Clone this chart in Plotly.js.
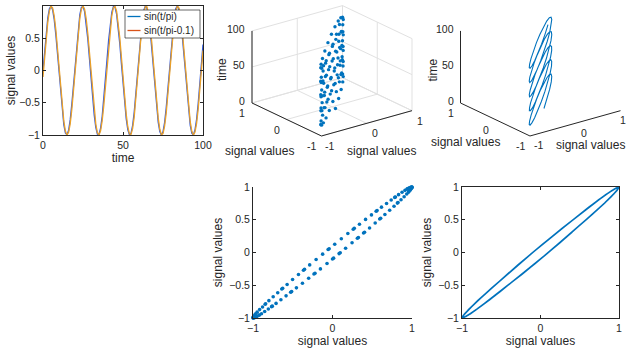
<!DOCTYPE html>
<html>
<head>
<meta charset="utf-8">
<script src="https://cdn.plot.ly/plotly-3.0.1.min.js"></script>
<style>html,body{margin:0;padding:0;background:#fff;}#chart{width:626px;height:354px;}</style>
</head>
<body>
<div id="chart"></div>
<script>
// time values 0..100
var time = [];
for (var i = 0; i <= 100; i++) time.push(i);

// sin(t/pi)
var sig1 = [
 0, 0.313, 0.594, 0.816, 0.956, 1.000, 0.943, 0.792, 0.561, 0.274,
 -0.042, -0.352, -0.627, -0.841, -0.969, -0.998, -0.926, -0.766, -0.526, -0.233,
 0.083, 0.391, 0.659, 0.862, 0.977, 0.995, 0.912, 0.738, 0.490, 0.193,
 -0.124, -0.428, -0.689, -0.880, -0.986, -0.990, -0.893, -0.710, -0.454, -0.152,
 0.165, 0.466, 0.719, 0.901, 0.991, 0.983, 0.875, 0.680, 0.416, 0.111,
 -0.206, -0.502, -0.746, -0.917, -0.996, -0.974, -0.853, -0.649, -0.378, -0.069,
 0.246, 0.537, 0.774, 0.934, 0.999, 0.964, 0.831, 0.616, 0.339, 0.028,
 -0.287, -0.571, -0.800, -0.948, -1.000, -0.950, -0.807, -0.584, -0.300, 0.014,
 0.326, 0.606, 0.824, 0.960, 0.999, 0.938, 0.783, 0.549, 0.261, -0.055,
 -0.365, -0.638, -0.847, -0.971, -0.997, -0.920, -0.757, -0.514, -0.220, 0.097,
 0.403
];

// sin(t/pi-0.1)
var sig2 = [
 -0.100, 0.217, 0.511, 0.754, 0.922, 0.997, 0.972, 0.848, 0.640, 0.369,
 0.058, -0.257, -0.547, -0.782, -0.938, -0.999, -0.959, -0.827, -0.608, -0.329,
 -0.017, 0.297, 0.581, 0.806, 0.951, 1.000, 0.949, 0.802, 0.574, 0.290,
 -0.025, -0.337, -0.614, -0.831, -0.965, -0.999, -0.936, -0.777, -0.540, -0.250,
 0.066, 0.375, 0.646, 0.852, 0.973, 0.996, 0.919, 0.749, 0.505, 0.210,
 -0.107, -0.413, -0.676, -0.872, -0.982, -0.991, -0.901, -0.722, -0.469, -0.169,
 0.148, 0.451, 0.707, 0.893, 0.989, 0.986, 0.883, 0.692, 0.432, 0.127,
 -0.189, -0.488, -0.735, -0.911, -0.994, -0.978, -0.862, -0.662, -0.394, -0.086,
 0.230, 0.523, 0.764, 0.927, 0.998, 0.968, 0.841, 0.630, 0.356, 0.045,
 -0.270, -0.558, -0.790, -0.942, -1.000, -0.955, -0.819, -0.597, -0.316, -0.003,
 0.310
];

var seriesNames = ['sin(t/pi)', 'sin(t/pi-0.1)'];
var timeTicks = [0, 50, 100];
var sigTicks = [-1, -0.5, 0, 0.5, 1];
var sigTicks3d = [-1, 0, 1];
var sigLabel = 'signal values';
var timeLabel = 'time';

var FONT = 'Liberation Sans, Arial, Helvetica, sans-serif';
var INK = '#262626';
var GRID = '#e1e1e1';
var BLUE = '#0072BD';
var LINE1 = '#2f5ae0', LINE2 = '#eaa028';
var LEG1 = '#0072BD', LEG2 = '#D95319';
var TICKSZ = 10.5, TITLESZ = 12, LEGSZ = 10;
var W = 626, H = 354;

// ---- 3D view (MATLAB default view: az -37.5, el 30), orthographic, drawn on hidden 2D axes ----
var AZ = -37.5 * Math.PI / 180, EL = 30 * Math.PI / 180;
var SX = 57.06, SY = 41.6;   // pixels per projected unit (stretch-to-fill)
function proj(x, y, z) {
  var xn = x, yn = y, zn = (z - 50) / 50;
  var u = Math.cos(AZ) * xn + Math.sin(AZ) * yn;
  var d = -Math.sin(AZ) * xn + Math.cos(AZ) * yn;
  var v = Math.cos(EL) * zn + Math.sin(EL) * d;
  return [u, v];
}
function projArrays(xs, ys, zs) {
  var u = [], v = [];
  for (var i = 0; i < xs.length; i++) { var p = proj(xs[i], ys[i], zs[i]); u.push(p[0]); v.push(p[1]); }
  return {u: u, v: v};
}
function segTrace(segs, color, width, xa, ya) {
  var u = [], v = [];
  segs.forEach(function (s) {
    var a = proj(s[0][0], s[0][1], s[0][2]), b = proj(s[1][0], s[1][1], s[1][2]);
    u.push(a[0], b[0], null); v.push(a[1], b[1], null);
  });
  return {x: u, y: v, type: 'scatter', mode: 'lines', showlegend: false, hoverinfo: 'skip',
    line: {color: color, width: width}, xaxis: xa, yaxis: ya, connectgaps: false};
}
var xLo = sigTicks3d[0], xHi = sigTicks3d[sigTicks3d.length - 1];
var zLo = timeTicks[0], zHi = timeTicks[timeTicks.length - 1];
function gridSegs() {
  var s = [];
  sigTicks3d.forEach(function (a) {
    s.push([[a, xLo, zLo], [a, xHi, zLo]]);
    s.push([[xLo, a, zLo], [xHi, a, zLo]]);
    s.push([[xHi, a, zLo], [xHi, a, zHi]]);
    s.push([[a, xHi, zLo], [a, xHi, zHi]]);
  });
  timeTicks.forEach(function (z) {
    s.push([[xHi, xLo, z], [xHi, xHi, z]]);
    s.push([[xLo, xHi, z], [xHi, xHi, z]]);
  });
  return s;
}
function axisSegs() {
  return [
    [[xLo, xHi, zLo], [xLo, xHi, zHi]],
    [[xLo, xHi, zLo], [xLo, xLo, zLo]],
    [[xLo, xLo, zLo], [xHi, xLo, zLo]]
  ];
}

var panels = [
  {cx: 332, cy: 70.8, px0: 205, px1: 420, xa: 'x4', ya: 'y4', grid: true,
   yTitle: [-27, -31.5], xTitle: [15, -27.6], zTitle: [-30, -3],
   yTick: [-10, -10.5], xTick: [8, -10]},
  {cx: 540.5, cy: 70.8, px0: 420, px1: 626, xa: 'x5', ya: 'y5', grid: false,
   yTitle: [-30, -23], xTitle: [15, -21.6], zTitle: [-28, -3],
   yTick: [-9.5, -10.5], xTick: [9, -9.5]}
];
var PY0 = 0, PY1 = 176;

var traces = [
  {x: time, y: sig1, type: 'scatter', mode: 'lines', name: seriesNames[0], showlegend: false,
   line: {color: LINE1, width: 1.3}, xaxis: 'x', yaxis: 'y'},
  {x: time, y: sig2, type: 'scatter', mode: 'lines', name: seriesNames[1], showlegend: false,
   line: {color: LINE2, width: 1.3}, xaxis: 'x', yaxis: 'y'},
  {x: sig1, y: sig2, type: 'scatter', mode: 'markers', showlegend: false,
   marker: {color: BLUE, size: 3.6}, xaxis: 'x2', yaxis: 'y2', cliponaxis: false},
  {x: sig1, y: sig2, type: 'scatter', mode: 'lines', showlegend: false,
   line: {color: BLUE, width: 1.5}, xaxis: 'x3', yaxis: 'y3'}
];

var annotations = [];
function ann(p, text, shift, opts) {
  var a = Object.assign({x: p[0], y: p[1], text: text, showarrow: false,
    xshift: shift[0], yshift: shift[1], font: {size: TICKSZ, color: INK, family: FONT}}, opts || {});
  annotations.push(a);
}

panels.forEach(function (P, k) {
  if (P.grid) traces.push(segTrace(gridSegs(), GRID, 1, P.xa, P.ya));
  traces.push(segTrace(axisSegs(), INK, 1, P.xa, P.ya));
  var pr = projArrays(sig1, sig2, time);
  if (k === 0) {
    traces.push({x: pr.u, y: pr.v, type: 'scatter', mode: 'markers', showlegend: false,
      marker: {color: BLUE, size: 3.4}, xaxis: P.xa, yaxis: P.ya, cliponaxis: false});
  } else {
    traces.push({x: pr.u, y: pr.v, type: 'scatter', mode: 'lines', showlegend: false,
      line: {color: BLUE, width: 1.1}, xaxis: P.xa, yaxis: P.ya});
  }
  var refs = {xref: P.xa, yref: P.ya};
  timeTicks.forEach(function (z) {
    ann(proj(xLo, xHi, z), String(z), [-5, 2], Object.assign({xanchor: 'right', yanchor: 'middle'}, refs));
  });
  sigTicks3d.forEach(function (y) {
    ann(proj(xLo, y, zLo), String(y), P.yTick, Object.assign({xanchor: 'center', yanchor: 'middle'}, refs));
  });
  sigTicks3d.forEach(function (x, j) {
    var last = (k === 1 && j === sigTicks3d.length - 1);
    ann(proj(x, xLo, zLo), String(x), last ? [7, P.xTick[1]] : P.xTick,
      Object.assign({xanchor: last ? 'right' : 'center', yanchor: 'middle'}, refs));
  });
  var tf = {size: TITLESZ, color: INK, family: FONT};
  ann(proj(xLo, 0, zLo), sigLabel, P.yTitle, Object.assign({xanchor: 'center', yanchor: 'middle', font: tf}, refs));
  ann(proj(0, xLo, zLo), sigLabel, P.xTitle, Object.assign({xanchor: 'center', yanchor: 'middle', font: tf}, refs));
  ann(proj(xLo, xHi, 50), timeLabel, P.zTitle, Object.assign({xanchor: 'center', yanchor: 'middle', textangle: -90, font: tf}, refs));
});

// legend box for the first panel (paper pixels)
var LEG = {x0: 125, x1: 200, y0: 10, y1: 38, rows: [16.5, 30.5], lx0: 127.5, lx1: 140.5, tx: 142};
var legColors = [LEG1, LEG2];
var shapes = [{type: 'rect', xref: 'paper', yref: 'paper', layer: 'above',
  x0: LEG.x0 / W, x1: LEG.x1 / W, y0: 1 - LEG.y1 / H, y1: 1 - LEG.y0 / H,
  fillcolor: '#fff', line: {color: INK, width: 0.7}}];
seriesNames.forEach(function (nm, i) {
  var yy = 1 - LEG.rows[i] / H;
  shapes.push({type: 'line', xref: 'paper', yref: 'paper', layer: 'above',
    x0: LEG.lx0 / W, x1: LEG.lx1 / W, y0: yy, y1: yy, line: {color: legColors[i], width: 1.3}});
  annotations.push({xref: 'paper', yref: 'paper', x: LEG.tx / W, y: yy, text: nm, showarrow: false,
    xanchor: 'left', yanchor: 'middle', font: {size: LEGSZ, color: INK, family: FONT}});
});

function ax2d(dom, range, ticks, title, mirror, anchor, standoff) {
  return {
    domain: dom, range: range, tickvals: ticks, ticks: 'inside', ticklen: 3,
    tickcolor: INK, showline: true, linecolor: INK, linewidth: 1, anchor: anchor,
    mirror: mirror ? 'ticks' : false, showgrid: false, zeroline: false,
    tickfont: {size: TICKSZ, color: INK, family: FONT},
    title: {text: title, font: {size: TITLESZ, color: INK, family: FONT}, standoff: standoff},
    automargin: false, fixedrange: true
  };
}
function hiddenAx(dom, range, anchor) {
  return {domain: dom, range: range, visible: false, fixedrange: true, anchor: anchor,
    showgrid: false, zeroline: false};
}

var layout = {
  width: W, height: H,
  margin: {l: 0, r: 0, t: 0, b: 0},
  paper_bgcolor: '#fff', plot_bgcolor: 'rgba(0,0,0,0)',
  font: {family: FONT, color: INK, size: TICKSZ},
  showlegend: false,
  xaxis: ax2d([43 / W, 203 / W], [0, 100], timeTicks, timeLabel, true, 'y', 4),
  yaxis: ax2d([1 - 135 / H, 1 - 6 / H], [-1, 1], sigTicks, sigLabel, true, 'x', 0),
  xaxis2: ax2d([253 / W, 412 / W], [-1, 1], sigTicks3d, sigLabel, false, 'y2', 4),
  yaxis2: ax2d([1 - 318 / H, 1 - 187 / H], [-1, 1], sigTicks, sigLabel, false, 'x2', 3),
  xaxis3: ax2d([462 / W, 619 / W], [-1, 1], sigTicks3d, sigLabel, true, 'y3', 4),
  yaxis3: ax2d([1 - 318 / H, 1 - 187 / H], [-1, 1], sigTicks, sigLabel, true, 'x3', 3),
  annotations: annotations,
  shapes: shapes
};
panels.forEach(function (P, k) {
  var n = k + 4;
  layout['xaxis' + n] = hiddenAx([P.px0 / W, P.px1 / W], [(P.px0 - P.cx) / SX, (P.px1 - P.cx) / SX], 'y' + n);
  layout['yaxis' + n] = hiddenAx([1 - PY1 / H, 1 - PY0 / H], [(P.cy - PY1) / SY, (P.cy - PY0) / SY], 'x' + n);
});

Plotly.newPlot('chart', traces, layout, {displayModeBar: false, staticPlot: true});
</script>
</body>
</html>
